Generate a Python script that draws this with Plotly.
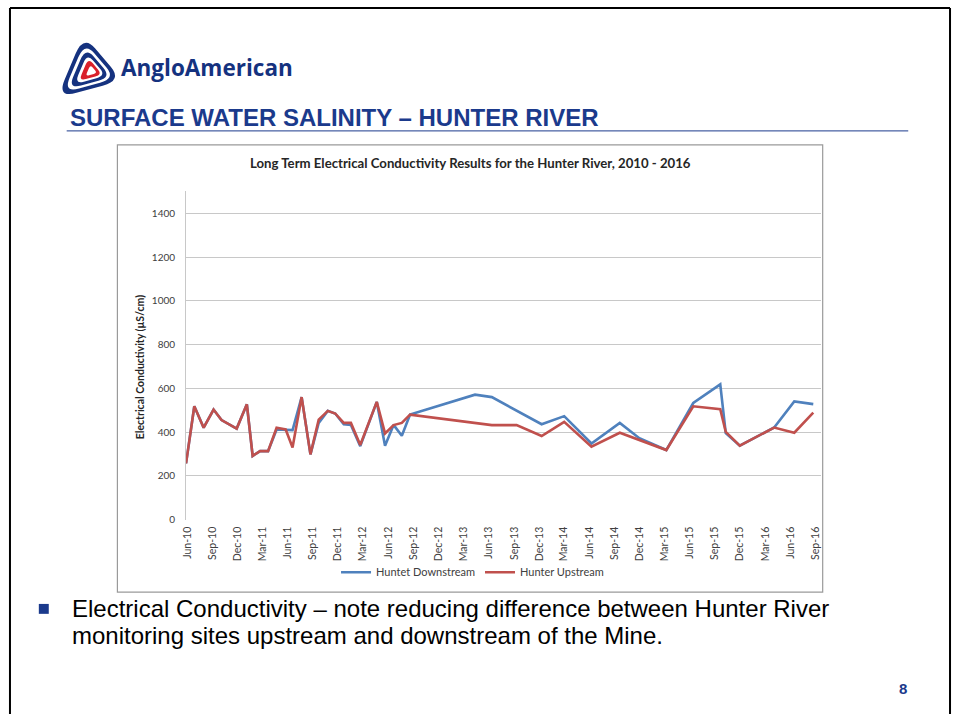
import plotly.graph_objects as go

# ---------------- data ----------------
down_dates = ["2010-05-28", "2010-06-27", "2010-07-31", "2010-09-05", "2010-10-04", "2010-11-28",
              "2011-01-04", "2011-01-25", "2011-02-21", "2011-03-22", "2011-04-22", "2011-05-25",
              "2011-06-19", "2011-07-22", "2011-08-23", "2011-09-22", "2011-10-25", "2011-11-21",
              "2011-12-22", "2012-01-17", "2012-02-20", "2012-04-20", "2012-05-20", "2012-06-20",
              "2012-07-20", "2012-08-19", "2013-04-12", "2013-06-12", "2013-12-10", "2014-03-02",
              "2014-06-09", "2014-09-20", "2014-11-30", "2015-03-08", "2015-06-14", "2015-09-20",
              "2015-10-10", "2015-11-30", "2016-04-03", "2016-06-15", "2016-08-23"]
down_values = [257, 518, 420, 503, 455, 416,
               527, 291, 313, 313, 412, 412,
               409, 560, 298, 442, 497, 485,
               436, 433, 336, 538, 338, 433,
               383, 480, 571, 560, 436, 473,
               348, 442, 372, 318, 533, 618,
               395, 338, 421, 540, 528]

up_dates = ["2010-05-28", "2010-06-27", "2010-07-31", "2010-09-05", "2010-10-04", "2010-11-28",
            "2011-01-04", "2011-01-25", "2011-02-21", "2011-03-22", "2011-04-22", "2011-05-25",
            "2011-06-19", "2011-07-22", "2011-08-23", "2011-09-22", "2011-10-25", "2011-11-21",
            "2011-12-22", "2012-01-17", "2012-02-20", "2012-04-20", "2012-05-20", "2012-06-20",
            "2012-07-20", "2012-08-19", "2013-06-12", "2013-09-10", "2013-12-10", "2014-03-02",
            "2014-06-09", "2014-09-20", "2015-03-08", "2015-06-14", "2015-09-20", "2015-10-10",
            "2015-11-30", "2016-04-03", "2016-06-15", "2016-08-23"]
up_values = [257, 518, 420, 503, 455, 416,
             527, 291, 313, 313, 420, 412,
             330, 560, 298, 457, 497, 485,
             442, 442, 341, 538, 394, 432,
             442, 480, 432, 432, 382, 447,
             333, 397, 318, 518, 505, 401,
             338, 421, 397, 489]

tick_dates = ["2010-06-01", "2010-09-01", "2010-12-01", "2011-03-01", "2011-06-01", "2011-09-01",
              "2011-12-01", "2012-03-01", "2012-06-01", "2012-09-01", "2012-12-01", "2013-03-01",
              "2013-06-01", "2013-09-01", "2013-12-01", "2014-03-01", "2014-06-01", "2014-09-01",
              "2014-12-01", "2015-03-01", "2015-06-01", "2015-09-01", "2015-12-01", "2016-03-01",
              "2016-06-01", "2016-09-01"]
tick_labels = ["Jun-10", "Sep-10", "Dec-10", "Mar-11", "Jun-11", "Sep-11", "Dec-11", "Mar-12",
               "Jun-12", "Sep-12", "Dec-12", "Mar-13", "Jun-13", "Sep-13", "Dec-13", "Mar-14",
               "Jun-14", "Sep-14", "Dec-14", "Mar-15", "Jun-15", "Sep-15", "Dec-15", "Mar-16",
               "Jun-16", "Sep-16"]

# ---------------- helpers ----------------
W, H = 954, 720
NAVY = "#1B3A8C"


def px(x):
    return x / W


def py(y):
    return 1 - y / H


def rounded_tri(verts, r=0.3):
    n = len(verts)
    parts = []
    for i in range(n):
        p = verts[i]
        a = verts[i - 1]
        b = verts[(i + 1) % n]
        s = (p[0] + (a[0] - p[0]) * r, p[1] + (a[1] - p[1]) * r)
        e = (p[0] + (b[0] - p[0]) * r, p[1] + (b[1] - p[1]) * r)
        parts.append(("M " if i == 0 else "L ") + f"{px(s[0])},{py(s[1])}")
        parts.append(f"Q {px(p[0])},{py(p[1])} {px(e[0])},{py(e[1])}")
    parts.append("Z")
    return " ".join(parts)


def scaled(verts, c, k):
    return [(c[0] + (v[0] - c[0]) * k, c[1] + (v[1] - c[1]) * k) for v in verts]


fig = go.Figure()
fig.add_trace(go.Scatter(x=down_dates, y=down_values, mode="lines", name="Huntet Downstream",
                         line=dict(color="#4F81BD", width=2.6)))
fig.add_trace(go.Scatter(x=up_dates, y=up_values, mode="lines", name="Hunter Upstream",
                         line=dict(color="#C0504D", width=2.6)))

shapes = []
# slide frame
for (x0, y0, x1, y1) in [(5, 8, 950, 8), (5, 8, 5, 720), (950, 8, 950, 720)]:
    shapes.append(dict(type="line", xref="paper", yref="paper", x0=px(x0), x1=px(x1), y0=py(y0), y1=py(y1),
                       line=dict(color="black", width=2)))
# title underline
shapes.append(dict(type="line", xref="paper", yref="paper", x0=px(62), x1=px(908), y0=py(132), y1=py(132),
                   line=dict(color=NAVY, width=1)))
# chart box
shapes.append(dict(type="rect", xref="paper", yref="paper", x0=px(113), x1=px(822), y0=py(597), y1=py(146),
                   line=dict(color="#9A9A9A", width=1.2), layer="below"))
# bullet square
shapes.append(dict(type="rect", xref="paper", yref="paper", x0=px(34), x1=px(44), y0=py(619), y1=py(609),
                   line=dict(width=0), fillcolor=NAVY))
# logo
tri = [(79, 35), (118, 81), (52, 99)]
cen = (84, 72)
for k, col in [(1.0, "#15327F"), (0.80, "white"), (0.66, "#15327F"), (0.48, "white"),
               (0.36, "#D9202A"), (0.18, "white")]:
    shapes.append(dict(type="path", xref="paper", yref="paper",
                       path=rounded_tri(scaled(tri, (cen[0] + 4 * (1 - k), cen[1]), k)),
                       fillcolor=col, line=dict(width=0)))

annotations = [
    dict(text="<b>AngloAmerican</b>", x=px(115), y=py(68), xref="paper", yref="paper", xanchor="left",
         yanchor="middle", showarrow=False, font=dict(family="Open Sans", size=22.5, color="#15327F")),
    dict(text="<b>SURFACE WATER SALINITY – HUNTER RIVER</b>", x=px(63), y=py(118), xref="paper",
         yref="paper", xanchor="left", yanchor="middle", showarrow=False,
         font=dict(family="Liberation Sans", size=24, color=NAVY)),
    dict(text="<b>Long Term Electrical Conductivity Results for the Hunter River, 2010 - 2016</b>",
         x=px(468), y=py(164), xref="paper", yref="paper", xanchor="center", yanchor="middle",
         showarrow=False, font=dict(family="Lato", size=13.2, color="#262626")),
    dict(text="<b>Electrical Conductivity (µS/cm)</b>", x=px(136), y=py(370), xref="paper", yref="paper",
         xanchor="center", yanchor="middle", textangle=-90, showarrow=False,
         font=dict(family="Lato", size=10.5, color="#262626")),
    dict(text="Electrical Conductivity – note reducing difference between Hunter River",
         x=px(65), y=py(614), xref="paper", yref="paper", xanchor="left", yanchor="middle",
         showarrow=False, font=dict(family="Liberation Sans", size=24, color="black")),
    dict(text="monitoring sites upstream and downstream of the Mine.",
         x=px(65), y=py(641), xref="paper", yref="paper", xanchor="left", yanchor="middle",
         showarrow=False, font=dict(family="Liberation Sans", size=24, color="black")),
    dict(text="<b>8</b>", x=px(903), y=py(694), xref="paper", yref="paper", xanchor="center",
         yanchor="middle", showarrow=False, font=dict(family="Liberation Sans", size=15, color=NAVY)),
]

fig.update_layout(
    width=W, height=H,
    margin=dict(l=0, r=0, t=0, b=0),
    paper_bgcolor="white", plot_bgcolor="white",
    shapes=shapes, annotations=annotations,
    showlegend=True,
    legend=dict(orientation="h", x=px(470), xanchor="center", y=py(577), yanchor="middle",
                font=dict(family="Lato", size=11, color="#404040"), bgcolor="rgba(0,0,0,0)",
                itemwidth=30, tracegroupgap=0),
    xaxis=dict(domain=[px(182), px(820)], type="date", range=["2010-05-28", "2016-09-19"],
               tickvals=tick_dates, ticktext=tick_labels, tickangle=-90,
               tickfont=dict(family="Lato", size=10.5, color="#404040"),
               showgrid=False, zeroline=False, showline=False, ticks="", ticklabelstandoff=4),
    yaxis=dict(domain=[py(524), py(193)], range=[0, 1500], tickvals=[0, 200, 400, 600, 800, 1000, 1200, 1400],
               showgrid=True, gridcolor="#C8C8C8", gridwidth=1, zeroline=False,
               showline=True, linecolor="#C8C8C8", linewidth=1, ticks="",
               tickfont=dict(family="Lato", size=10, color="#404040"), ticklabelstandoff=8),
)

fig.write_html("out.html", config={"displayModeBar": False},
               post_script="document.body.style.margin='0px';document.body.style.overflow='hidden';")
